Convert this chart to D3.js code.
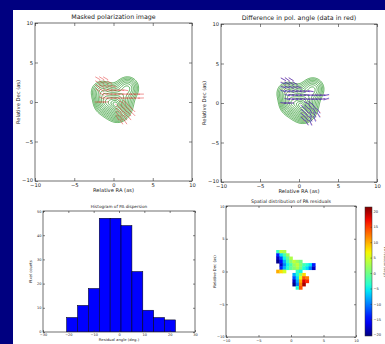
<!DOCTYPE html>
<html><head><meta charset="utf-8">
<script src="https://cdn.jsdelivr.net/npm/d3@7"></script>
<style>
body{margin:0;background:#000080;overflow:hidden}
svg{display:block}
text{font-family:"DejaVu Sans",sans-serif;fill:#222}
</style>
</head><body>
<svg id="c" width="385" height="344"></svg>
<script>
// ---------------- data ----------------
const skyTicks = [-10, -5, 0, 5, 10];
const gridRA  = [-2.5, -2, -1.5, -1, -0.5, 0, 0.5, 1, 1.5, 2, 2.5, 3, 3.5, 4];
const gridDec = [3, 2.5, 2, 1.5, 1, 0.5, 0, -0.5, -1, -1.5, -2, -2.5];
const n = null;
// PA residual map (deg), rows = gridDec, cols = gridRA
const residual = [
  [n, -3,   4,   3,  n,  n,  n,  n,  n,  n,  n,  n,   n,  n],
  [n, -14, -6,  -2,  2,  n,  n,  n,  n,  n,  n,  n,   n,  n],
  [n, -18, -12, -5, -1,  3,  n,  n,  n,  n,  n,  n,   n,  n],
  [n, -20, -16, -8, -3,  1,  4,  2,  0,  n,  n,  n,   n,  n],
  [n,  n,  -18, -10,-5, -2,  2,  4,  1, -2, -4, -6, -14,  n],
  [n,  n,  -14, -8, -4, -1,  1,  3,  0, -4, -6, -10,-18,  n],
  [n,  10,  8,   5,  n,  n,  n, -3, -5,  n,  n,  n,   n,  n],
  [n,  n,   n,   n,  n,  n, -8, -4,  2,  8,  n,  n,   n,  n],
  [n,  n,   n,   n,  n,  n, -12,-6,  6, 14, 12,  n,   n,  n],
  [n,  n,   n,   n,  n,  n, -18,-8, 10, 18, 16,  n,   n,  n],
  [n,  n,   n,   n,  n,  n, -20,-10,12, 20,  n,  n,   n,  n],
  [n,  n,   n,   n,  n,  n,  n, -4, 14,  n,  n,  n,   n,  n]
];
// observed polarization angle (deg from +RA axis), same grid
const dataAngle = [
  [n, -30, -32, -30,  n,   n,   n,   n,   n,   n,  n,  n,  n, n],
  [n, -30, -32, -30, -28,  n,   n,   n,   n,   n,  n,  n,  n, n],
  [n, -32, -30, -28, -25, -20,  n,   n,   n,   n,  n,  n,  n, n],
  [n, -35, -30, -25, -20, -15, -12, -10, -10,  n,  n,  n,  n, n],
  [n,  n,  -28, -20, -15, -10, -8,  -5,  -5,  -5, -3, -2,  0, n],
  [n,  n,  -25, -18, -12, -8,  -5,  -3,  -3,  -2,  0,  0,  2, n],
  [n,  0,   2,   3,   n,   n,   n,  -30, -40,  n,  n,  n,  n, n],
  [n,  n,   n,   n,   n,   n,  -45, -50, -50, -45, n,  n,  n, n],
  [n,  n,   n,   n,   n,   n,  -50, -55, -55, -50,-45, n,  n, n],
  [n,  n,   n,   n,   n,   n,  -55, -60, -55, -50,-45, n,  n, n],
  [n,  n,   n,   n,   n,   n,  -60, -60, -55, -50, n,  n,  n, n],
  [n,  n,   n,   n,   n,   n,   n,  -60, -55,  n,  n,  n,  n, n]
];
// total-intensity components (RA, Dec, amplitude, width)
const compRA    = [0.3, 1.8, -1.5, -1.3, 0.6];
const compDec   = [-0.1, 1.8, 1.3, -0.2, -1.3];
const compAmp   = [1.0, 0.55, 0.45, 0.35, 0.3];
const compSigma = [1.1, 0.8, 0.8, 0.7, 0.7];
const contourLevels = [0.127, 0.174, 0.234, 0.306, 0.39, 0.485, 0.588, 0.694, 0.799, 0.896, 0.98, 1.045, 1.09];
// histogram
const histEdges  = [-20.7, -16.4, -12.1, -7.8, -3.5, 0.8, 5.1, 9.4, 13.7, 18.0, 22.3];
const histCounts = [6, 11, 18, 47, 47, 44, 25, 9, 6, 5];
const histXTicks = [-30, -20, -10, 0, 10, 20, 30];
const histYTicks = [0, 10, 20, 30, 40, 50];
// colorbar
const cbarRange = [-20.4, 21.4];
const cbarTicks = [-20, -15, -10, -5, 0, 5, 10, 15, 20];

// ---------------- drawing ----------------
const svg = d3.select("#c");
svg.append("rect").attr("x", 13).attr("y", 10).attr("width", 372).attr("height", 334).attr("fill", "#fff");
const defs = svg.append("defs");

function jet(t) {
  t = Math.max(0, Math.min(1, t));
  const seg = pts => { for (let i = 1; i < pts.length; i++) { if (t <= pts[i][0]) { const [x0, y0] = pts[i-1], [x1, y1] = pts[i]; return y0 + (y1 - y0) * (t - x0) / (x1 - x0); } } return pts[pts.length-1][1]; };
  const r = seg([[0,0],[0.35,0],[0.66,1],[0.89,1],[1,0.5]]);
  const g = seg([[0,0],[0.125,0],[0.375,1],[0.64,1],[0.91,0],[1,0]]);
  const b = seg([[0,0.5],[0.11,1],[0.34,1],[0.65,0],[1,0]]);
  return d3.rgb(r*255, g*255, b*255).formatHex();
}

let clipId = 0;
function panel(box, xd, yd, xt, yt, f) {
  const x = d3.scaleLinear().domain(xd).range([box.x0, box.x1]);
  const y = d3.scaleLinear().domain(yd).range([box.y1, box.y0]);
  const id = "clip" + (clipId++);
  defs.append("clipPath").attr("id", id).append("rect")
    .attr("x", box.x0).attr("y", box.y0).attr("width", box.x1 - box.x0).attr("height", box.y1 - box.y0);
  const plot = svg.append("g").attr("clip-path", `url(#${id})`);
  const axes = () => {
    const ts = f.tick;
    const fmt = d3.format("d");
    const gb = svg.append("g").attr("transform", `translate(0,${box.y1})`)
      .call(d3.axisBottom(x).tickValues(xt).tickSize(-ts).tickPadding(f.padX).tickFormat(fmt));
    const gl = svg.append("g").attr("transform", `translate(${box.x0},0)`)
      .call(d3.axisLeft(y).tickValues(yt).tickSize(-ts).tickPadding(f.padY).tickFormat(fmt));
    const gt = svg.append("g").attr("transform", `translate(0,${box.y0})`)
      .call(d3.axisTop(x).tickValues(xt).tickSize(-ts).tickFormat(""));
    const gr = svg.append("g").attr("transform", `translate(${box.x1},0)`)
      .call(d3.axisRight(y).tickValues(yt).tickSize(-ts).tickFormat(""));
    [gb, gl, gt, gr].forEach(g => {
      g.select(".domain").remove();
      g.selectAll(".tick line").attr("stroke", "#333").attr("stroke-width", 0.6);
      g.selectAll(".tick text").attr("font-size", f.tickFs).attr("fill", "#333").style("font-family", "DejaVu Sans");
    });
    // lift the lowest y label slightly so it does not collide with the first x label
    gl.selectAll(".tick text").filter(d => d === yt[0]).attr("dy", f.lowDy);
    svg.append("rect").attr("x", box.x0).attr("y", box.y0).attr("width", box.x1 - box.x0).attr("height", box.y1 - box.y0)
      .attr("fill", "none").attr("stroke", "#333").attr("stroke-width", 0.7);
    svg.append("text").attr("x", (box.x0 + box.x1) / 2).attr("y", box.y0 + f.titleDy).attr("text-anchor", "middle")
      .attr("font-size", f.titleFs).text(f.title);
    if (f.xlabel) svg.append("text").attr("x", (box.x0 + box.x1) / 2).attr("y", box.y1 + f.xlabDy).attr("text-anchor", "middle")
      .attr("font-size", f.labFs).text(f.xlabel);
    if (f.ylabel) svg.append("text").attr("transform", `translate(${box.x0 + f.ylabDx},${(box.y0 + box.y1) / 2}) rotate(-90)`)
      .attr("text-anchor", "middle").attr("font-size", f.labFs).text(f.ylabel);
  };
  return { x, y, plot, axes };
}

// intensity field for contours
const fStep = 0.1, fRA0 = -5, fDec0 = -5, fN = 111;
const field = new Array(fN * fN);
for (let j = 0; j < fN; j++) for (let i = 0; i < fN; i++) {
  const ra = fRA0 + i * fStep, dec = fDec0 + j * fStep;
  let v = 0;
  for (let k = 0; k < compRA.length; k++) {
    const dx = ra - compRA[k], dy = dec - compDec[k];
    v += compAmp[k] * Math.exp(-(dx*dx + dy*dy) / (2 * compSigma[k] * compSigma[k]));
  }
  field[i + j * fN] = v;
}
const contourSet = d3.contours().size([fN, fN]).thresholds(contourLevels)(field);

function drawContours(P) {
  const proj = d3.geoTransform({ point(gx, gy) {
    this.stream.point(P.x(fRA0 + (gx - 0.5) * fStep), P.y(fDec0 + (gy - 0.5) * fStep));
  }});
  const path = d3.geoPath(proj);
  P.plot.append("g").selectAll("path").data(contourSet).join("path")
    .attr("d", path).attr("fill", "none").attr("stroke", "#1a8f1a").attr("stroke-width", 0.7);
}

const cells = [];
gridDec.forEach((dec, r) => gridRA.forEach((ra, c) => {
  if (residual[r][c] !== null) cells.push({ ra, dec, res: residual[r][c], ang: dataAngle[r][c] });
}));
const vecLen = 0.75;
function drawVectors(P, angleOf, color, width, op) {
  P.plot.append("g").selectAll("line").data(cells).join("line")
    .attr("x1", d => P.x(d.ra - Math.cos(angleOf(d) * Math.PI / 180) * vecLen / 2))
    .attr("x2", d => P.x(d.ra + Math.cos(angleOf(d) * Math.PI / 180) * vecLen / 2))
    .attr("y1", d => P.y(d.dec - Math.sin(angleOf(d) * Math.PI / 180) * vecLen / 2))
    .attr("y2", d => P.y(d.dec + Math.sin(angleOf(d) * Math.PI / 180) * vecLen / 2))
    .attr("stroke", color).attr("stroke-width", width).attr("stroke-opacity", op);
}

const topFmt = { tick: 3, padX: 2.5, padY: 2, tickFs: 5.2, titleFs: 6.3, labFs: 5.2, titleDy: -4, xlabDy: 11, ylabDx: -15, lowDy: "0.1em" };

// Panel 1
const P1 = panel({ x0: 35, x1: 192, y0: 23, y1: 181 }, [-10, 10], [-10, 10], skyTicks, skyTicks,
  Object.assign({}, topFmt, { title: "Masked polarization image", xlabel: "Relative RA (as)", ylabel: "Relative Dec (as)" }));
drawContours(P1);
drawVectors(P1, d => d.ang, "#e02020", 0.8, 0.6);
P1.axes();

// Panel 2
const P2 = panel({ x0: 221, x1: 377, y0: 24, y1: 182 }, [-10, 10], [-10, 10], skyTicks, skyTicks,
  Object.assign({}, topFmt, { title: "Difference in pol. angle (data in red)", xlabel: "Relative RA (as)", ylabel: "Relative Dec (as)" }));
drawContours(P2);
drawVectors(P2, d => d.ang, "#e02020", 0.7, 0.5);
drawVectors(P2, d => d.ang - d.res, "#2020d0", 0.8, 0.75);
P2.axes();

// Panel 3 histogram
const botFmt = { tick: 2, padX: 2, padY: 1.5, tickFs: 3.5, titleFs: 4.2, labFs: 3.8, titleDy: -3, xlabDy: 9.2, ylabDx: -11, lowDy: "0.2em" };
const P3 = panel({ x0: 43, x1: 195, y0: 211, y1: 332 }, [-30, 30], [0, 50], histXTicks, histYTicks,
  Object.assign({}, botFmt, { title: "Histogram of PA dispersion", xlabel: "Residual angle (deg.)", ylabel: "Pixel counts" }));
P3.plot.append("g").selectAll("rect").data(histCounts).join("rect")
  .attr("x", (d, i) => P3.x(histEdges[i]))
  .attr("width", (d, i) => P3.x(histEdges[i + 1]) - P3.x(histEdges[i]))
  .attr("y", d => P3.y(d)).attr("height", d => P3.y(0) - P3.y(d))
  .attr("fill", "#0000ff").attr("stroke", "#000").attr("stroke-width", 0.5);
P3.axes();

// Panel 4 residual map
const P4 = panel({ x0: 226, x1: 356, y0: 206, y1: 337 }, [-10, 10], [-10, 10], skyTicks, skyTicks,
  Object.assign({}, botFmt, { tickFs: 3.6, titleFs: 4.7, title: "Spatial distribution of PA residuals", xlabel: null, ylabel: "Relative Dec (as)", ylabDx: -10 }));
const cmap = v => jet((v - cbarRange[0]) / (cbarRange[1] - cbarRange[0]));
defs.append("filter").attr("id", "soft").attr("x", "-20%").attr("y", "-20%").attr("width", "140%").attr("height", "140%")
  .append("feGaussianBlur").attr("stdDeviation", 0.7);
P4.plot.append("g").attr("filter", "url(#soft)").selectAll("rect").data(cells).join("rect")
  .attr("x", d => P4.x(d.ra - 0.25) - 0.2)
  .attr("width", d => P4.x(d.ra + 0.25) - P4.x(d.ra - 0.25) + 0.4)
  .attr("y", d => P4.y(d.dec + 0.25) - 0.2)
  .attr("height", d => P4.y(d.dec - 0.25) - P4.y(d.dec + 0.25) + 0.4)
  .attr("fill", d => cmap(d.res));
P4.axes();

// colorbar
const cb = { x0: 365, x1: 372, y0: 207, y1: 336 };
const cy = d3.scaleLinear().domain(cbarRange).range([cb.y1, cb.y0]);
const grad = defs.append("linearGradient").attr("id", "jetg").attr("x1", 0).attr("y1", 1).attr("x2", 0).attr("y2", 0);
d3.range(0, 1.0001, 0.05).forEach(t => grad.append("stop").attr("offset", t).attr("stop-color", jet(t)));
svg.append("rect").attr("x", cb.x0).attr("y", cb.y0).attr("width", cb.x1 - cb.x0).attr("height", cb.y1 - cb.y0)
  .attr("fill", "url(#jetg)").attr("stroke", "#333").attr("stroke-width", 0.5);
const cbAxis = svg.append("g").attr("transform", `translate(${cb.x1},0)`)
  .call(d3.axisRight(cy).tickValues(cbarTicks).tickSize(-1.5).tickPadding(1.5).tickFormat(d3.format("d")));
cbAxis.select(".domain").remove();
cbAxis.selectAll(".tick line").attr("stroke", "#333").attr("stroke-width", 0.5);
cbAxis.selectAll(".tick text").attr("font-size", 3.6).attr("fill", "#333");
svg.append("text").attr("transform", `translate(383.5,262) rotate(90)`).attr("text-anchor", "middle")
  .attr("font-size", 3.4).text("PA residual (deg.)");
</script>
</body></html>
